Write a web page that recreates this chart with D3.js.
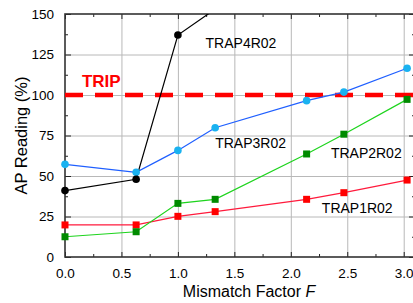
<!DOCTYPE html>
<html>
<head>
<meta charset="utf-8">
<script src="https://cdn.jsdelivr.net/npm/d3@7"></script>
<style>
  body { margin: 0; background: #fff; }
  text { font-family: "Liberation Sans", Arial, sans-serif; }
</style>
</head>
<body>
<div id="chart"></div>
<script>
// mismatch factor F for each measurement
var factors = [0, 0.63, 1.0, 1.33, 2.14, 2.47, 3.03];
var trap1 = [19.8, 19.8, 25.1, 28.0, 35.6, 39.7, 47.5];
var trap2 = [12.5, 15.6, 33.1, 35.6, 63.6, 75.8, 97.3];
var trap3 = [57.2, 52.3, 65.8, 79.8, 96.5, 101.8, 116.5];
var trap4F = [0, 0.63, 1.0, 1.33];
var trap4 = [41, 48, 137, 153];
var tripLevel = 100;
var xTicks = [0, 0.5, 1.0, 1.5, 2.0, 2.5, 3.0];
var yTicks = [0, 25, 50, 75, 100, 125, 150];

var width = 413, height = 303;
var margin = {top: 14, right: -2, bottom: 46, left: 65};
var w = width - margin.left - margin.right,
  h = height - margin.top - margin.bottom;

var x = d3.scaleLinear().domain([0, 3.1]).range([0, w]);
var y = d3.scaleLinear().domain([0, 150]).range([h, 0]);

var svg = d3.select('#chart')
  .append('svg')
    .attr('width', width)
    .attr('height', height)
  .append('g')
    .attr('transform', 'translate(' + margin.left + ',' + margin.top + ')');

svg.append('clipPath').attr('id', 'plotclip')
  .append('rect').attr('width', w).attr('height', h);

// grid
svg.append('g')
  .attr('class', 'grid')
  .attr('transform', 'translate(0,' + h + ')')
  .call(d3.axisBottom(x).tickValues(xTicks.slice(1)).tickSize(-h).tickFormat(''))
  .call(function(g) { g.select('.domain').remove(); })
  .selectAll('line').attr('stroke', '#b8b8b8');

svg.append('g')
  .attr('class', 'grid')
  .call(d3.axisLeft(y).tickValues(yTicks.slice(1, -1)).tickSize(-w).tickFormat(''))
  .call(function(g) { g.select('.domain').remove(); })
  .selectAll('line').attr('stroke', '#b8b8b8');

// minor ticks
var xMinor = d3.range(0.25, 3.1, 0.5);
var yMinor = d3.range(12.5, 150, 25);

function plainTicks(g) {
  g.select('.domain').remove();
  g.selectAll('line').attr('stroke', '#222');
}

// bottom axis
var xb = svg.append('g')
  .attr('transform', 'translate(0,' + h + ')')
  .call(d3.axisBottom(x).tickValues(xTicks).tickSizeInner(-5).tickSizeOuter(0)
    .tickPadding(11).tickFormat(d3.format('.1f')));
plainTicks(xb);
xb.selectAll('text').attr('font-size', '13.5px').attr('fill', '#000');
svg.append('g')
  .attr('transform', 'translate(0,' + h + ')')
  .call(d3.axisBottom(x).tickValues(xMinor).tickSizeInner(-3).tickSizeOuter(0).tickFormat(''))
  .call(plainTicks);

// top axis
svg.append('g')
  .call(d3.axisTop(x).tickValues(xTicks).tickSizeInner(-5).tickSizeOuter(0).tickFormat(''))
  .call(plainTicks);
svg.append('g')
  .call(d3.axisTop(x).tickValues(xMinor).tickSizeInner(-3).tickSizeOuter(0).tickFormat(''))
  .call(plainTicks);

// left axis
var yl = svg.append('g')
  .call(d3.axisLeft(y).tickValues(yTicks).tickSizeInner(-6).tickSizeOuter(0).tickPadding(11));
plainTicks(yl);
yl.selectAll('text').attr('font-size', '13.5px').attr('fill', '#000');
svg.append('g')
  .call(d3.axisLeft(y).tickValues(yMinor).tickSizeInner(-3).tickSizeOuter(0).tickFormat(''))
  .call(plainTicks);

// right axis
svg.append('g')
  .attr('transform', 'translate(' + w + ',0)')
  .call(d3.axisRight(y).tickValues(yTicks).tickSizeInner(-6).tickSizeOuter(0).tickFormat(''))
  .call(plainTicks);
svg.append('g')
  .attr('transform', 'translate(' + w + ',0)')
  .call(d3.axisRight(y).tickValues(yMinor).tickSizeInner(-3).tickSizeOuter(0).tickFormat(''))
  .call(plainTicks);

// frame
svg.append('rect')
  .attr('width', w).attr('height', h)
  .attr('fill', 'none')
  .attr('stroke', '#333')
  .attr('stroke-width', 1.6);

// trip line
svg.append('line')
  .attr('x1', x(0)).attr('x2', w)
  .attr('y1', y(tripLevel)).attr('y2', y(tripLevel))
  .attr('stroke', '#ff0000')
  .attr('stroke-width', 4.5)
  .attr('stroke-dasharray', '18,12');

svg.append('text')
  .attr('x', x(0.15)).attr('y', y(tripLevel) - 8)
  .attr('font-size', '17px')
  .attr('font-weight', 'bold')
  .attr('fill', '#ff0000')
  .text('TRIP');

var line = d3.line()
  .x(function(d) { return x(d[0]); })
  .y(function(d) { return y(d[1]); });

var plot = svg.append('g').attr('clip-path', 'url(#plotclip)');

var series = [
  {name: 'TRAP1R02', fx: factors, vals: trap1, line: '#ff1a3c', mark: '#ff0000', shape: 'square'},
  {name: 'TRAP2R02', fx: factors, vals: trap2, line: '#1ed41e', mark: '#008a00', shape: 'square'},
  {name: 'TRAP3R02', fx: factors, vals: trap3, line: '#1f5fff', mark: '#1ab2f0', shape: 'circle'},
  {name: 'TRAP4R02', fx: trap4F, vals: trap4, line: '#000', mark: '#000', shape: 'circle'}
];

series.forEach(function(s) {
  var pts = s.fx.map(function(f, i) { return [f, s.vals[i]]; });
  plot.append('path')
    .datum(pts)
    .attr('fill', 'none')
    .attr('stroke', s.line)
    .attr('stroke-width', 1.2)
    .attr('d', line);
  var visible = pts.filter(function(p) { return p[1] <= 150; });
  if (s.shape === 'square') {
    svg.selectAll(null)
      .data(visible)
      .enter().append('rect')
      .attr('x', function(d) { return x(d[0]) - 3.5; })
      .attr('y', function(d) { return y(d[1]) - 3.5; })
      .attr('width', 7).attr('height', 7)
      .attr('fill', s.mark);
  } else {
    svg.selectAll(null)
      .data(visible)
      .enter().append('circle')
      .attr('cx', function(d) { return x(d[0]); })
      .attr('cy', function(d) { return y(d[1]); })
      .attr('r', 3.8)
      .attr('fill', s.mark);
  }
});

// series labels
var labels = [
  {t: 'TRAP4R02', f: 1.245, v: 129},
  {t: 'TRAP3R02', f: 1.33, v: 67},
  {t: 'TRAP2R02', f: 2.355, v: 61},
  {t: 'TRAP1R02', f: 2.275, v: 27.3}
];
svg.selectAll('.slabel')
  .data(labels)
  .enter().append('text')
  .attr('class', 'slabel')
  .attr('x', function(d) { return x(d.f); })
  .attr('y', function(d) { return y(d.v); })
  .attr('font-size', '14px')
  .attr('fill', '#000')
  .text(function(d) { return d.t; });

// axis titles
var xt = svg.append('text')
  .attr('x', x(1.63))
  .attr('y', h + 40)
  .attr('text-anchor', 'middle')
  .attr('font-size', '16px')
  .attr('fill', '#000');
xt.append('tspan').text('Mismatch Factor ');
xt.append('tspan').attr('font-style', 'italic').text('F');

svg.append('text')
  .attr('transform', 'rotate(-90)')
  .attr('x', -y(75))
  .attr('y', -38)
  .attr('text-anchor', 'middle')
  .attr('font-size', '16.5px')
  .attr('fill', '#000')
  .text('AP Reading (%)');
</script>
</body>
</html>
